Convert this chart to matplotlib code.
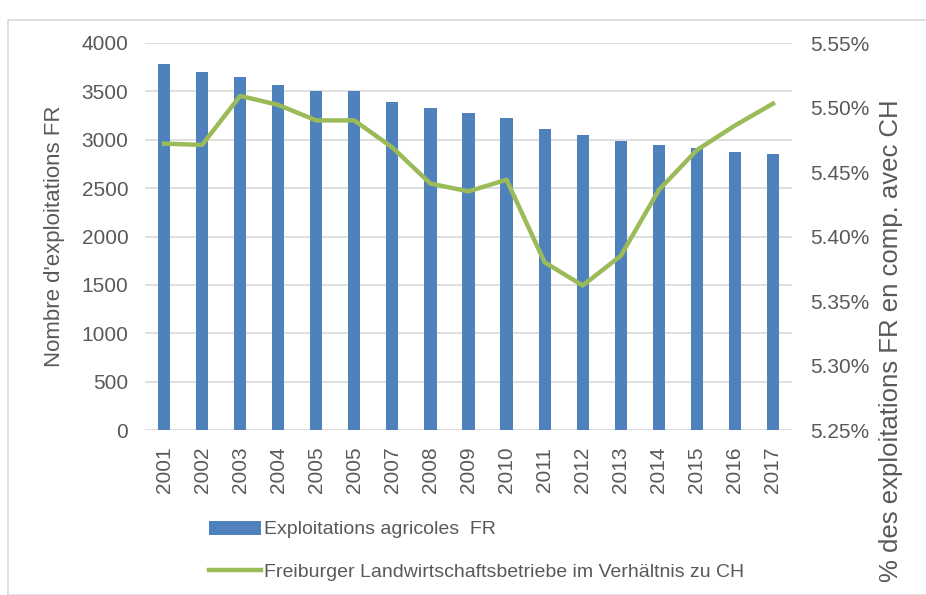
import matplotlib
matplotlib.use("Agg")
from matplotlib import pyplot as plt
from matplotlib.patches import Rectangle
import numpy as np

plt.rcParams['font.family'] = ['Liberation Sans Narrow', 'Liberation Sans', 'DejaVu Sans']

years = ["2001", "2002", "2003", "2004", "2005", "2005", "2007", "2008", "2009",
         "2010", "2011", "2012", "2013", "2014", "2015", "2016", "2017"]
exploitations = [3780, 3700, 3645, 3565, 3500, 3500, 3390, 3325, 3275,
                 3225, 3110, 3045, 2985, 2945, 2915, 2870, 2850]
ratio_ch = [5.472, 5.471, 5.509, 5.502, 5.490, 5.490, 5.469, 5.441, 5.435,
            5.444, 5.380, 5.362, 5.385, 5.436, 5.467, 5.486, 5.503]

grey = "#595959"
fig = plt.figure(figsize=(9.26, 5.95), dpi=100)
fig.patches.append(Rectangle((8/926, 0), 1, 1 - 20/595, transform=fig.transFigure,
                             fill=False, edgecolor="#D9D9D9", linewidth=1.2))

ax = fig.add_axes([145/926, 1 - 430/595, (792 - 145)/926, (430 - 43)/595])
x = np.arange(len(years))
bars = ax.bar(x, exploitations, width=0.32, color="#4F81BD",
              label="Exploitations agricoles  FR", zorder=2)
ax.set_ylim(0, 4000)
ax.set_xlim(-0.5, len(years) - 0.5)
ax.set_yticks(range(0, 4001, 500))
ax.set_xticks(x)
ax.set_xticklabels(years, rotation=90)
ax.grid(axis="y", color="#D9D9D9", linewidth=1.2, zorder=0)
ax.set_axisbelow(True)
for s in ax.spines.values():
    s.set_visible(False)
ax.tick_params(length=0, labelsize=15, colors=grey, pad=12)
ax.tick_params(axis="x", pad=12)
ax.set_ylabel("Nombre d'exploitations FR", fontsize=16, color=grey, labelpad=12)

ax2 = ax.twinx()
line, = ax2.plot(x, ratio_ch, color="#9BBB59", linewidth=3.2,
                 label="Freiburger Landwirtschaftsbetriebe im Verhältnis zu CH", zorder=3)
ax2.set_ylim(5.25, 5.55)
ax2.set_yticks(np.arange(5.25, 5.551, 0.05))
ax2.set_yticklabels(["{:.2f}%".format(v) for v in np.arange(5.25, 5.551, 0.05)])
for s in ax2.spines.values():
    s.set_visible(False)
ax2.tick_params(length=0, labelsize=15, colors=grey, pad=13)
fig.text(891/926, 1 - 341/595, "% des exploitations FR en comp. avec CH",
         rotation=90, ha="center", va="center", fontsize=18.5, color=grey)

leg = fig.legend([bars, line], [bars.get_label(), line.get_label()],
                 loc="upper left", bbox_to_anchor=(191/926, 1 - 503/595),
                 frameon=False, fontsize=14, handlelength=2.7, handleheight=0.75,
                 handletextpad=0.15, labelspacing=1.25, labelcolor=grey)

fig.savefig("out.png", dpi=100)
